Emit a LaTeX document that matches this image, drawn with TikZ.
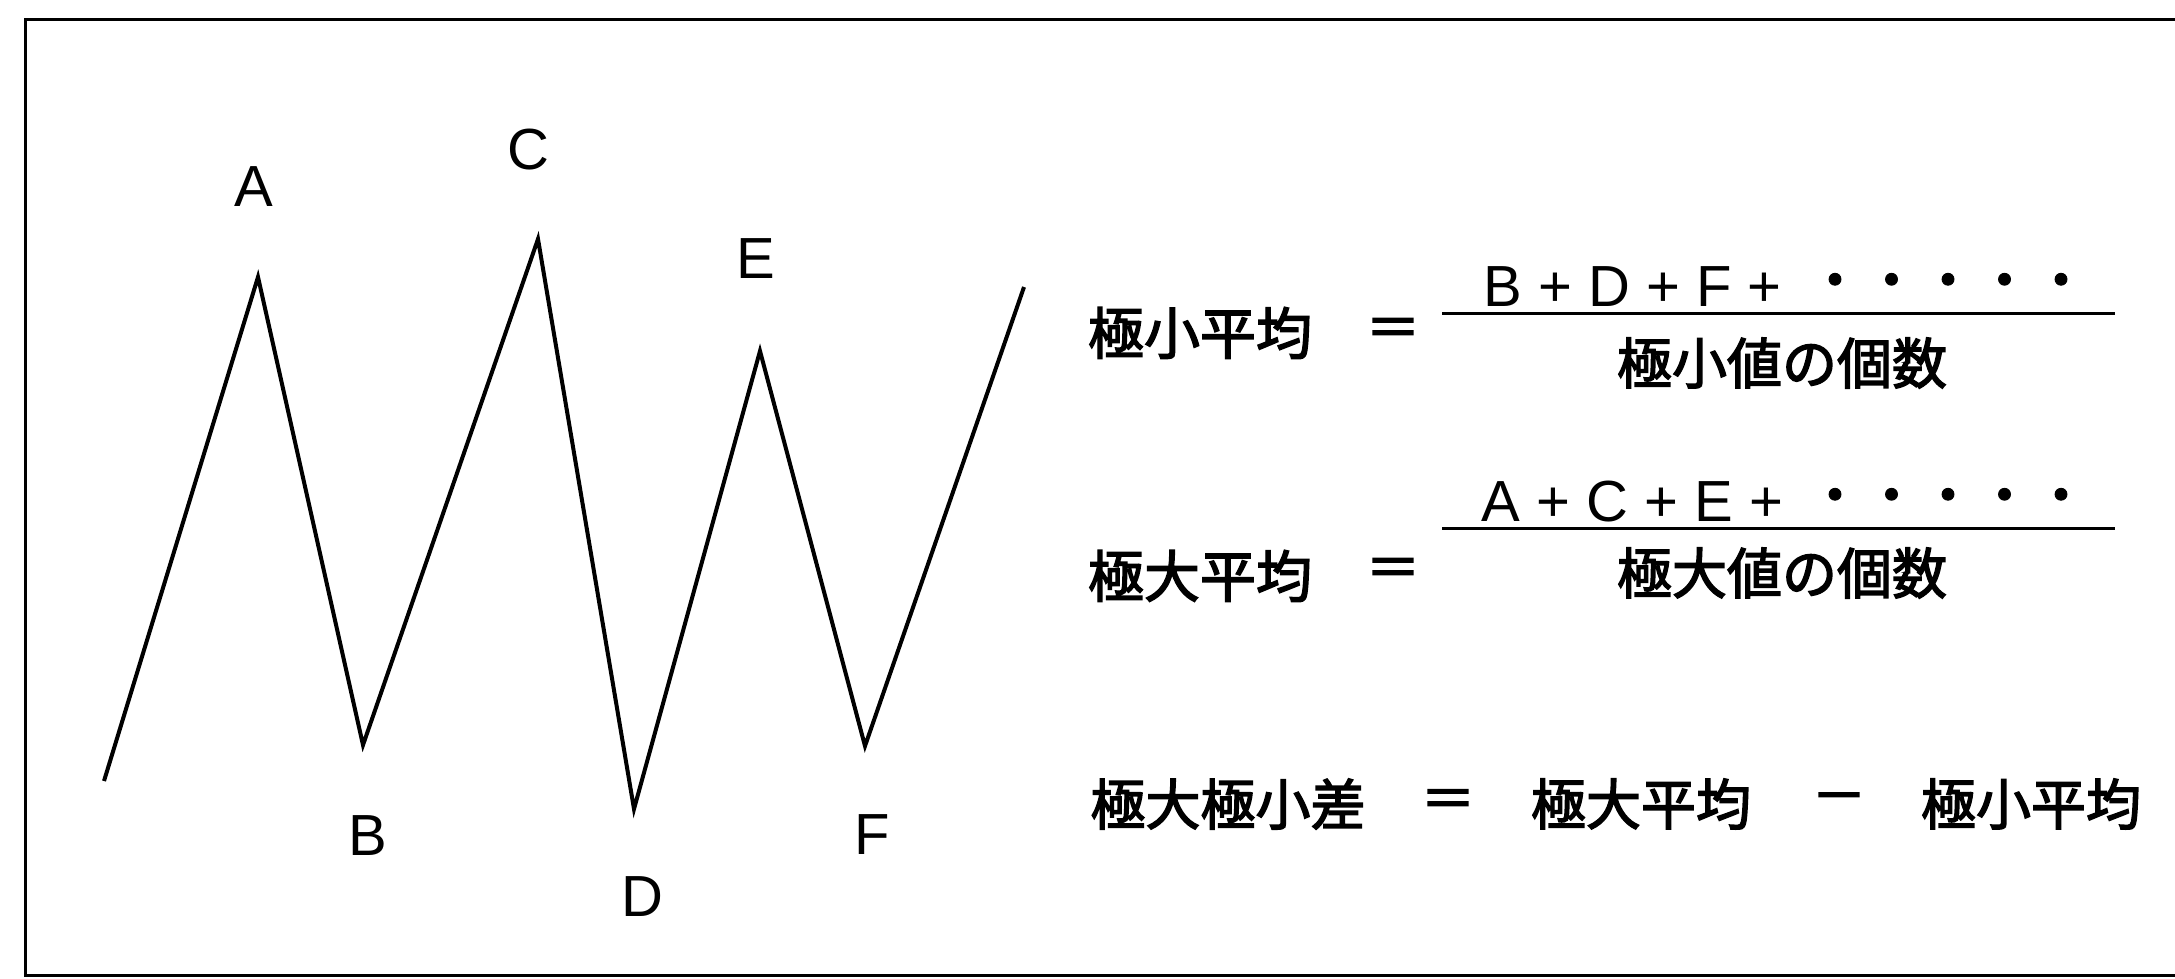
\documentclass[tikz,border=0pt]{standalone}
\usepackage{fontspec}
\setmainfont{Liberation Sans}
\newfontfamily\cjk{Noto Sans CJK JP}[FakeBold=2.6]
\newfontfamily\cjkdot{Noto Sans CJK JP}[FakeBold=1.5]
\begin{document}
\begin{tikzpicture}[x=1pt,y=-1pt,line width=3pt,
  lbl/.style={font=\fontsize{58}{60}\selectfont, inner sep=0pt},
  jp/.style={font=\cjk\fontsize{56}{60}\selectfont, inner sep=0pt},
  jpd/.style={font=\cjk\fontsize{55}{60}\selectfont, inner sep=0pt},
  dots/.style={font=\cjkdot\fontsize{56.5}{60}\selectfont, inner sep=0pt}]
\useasboundingbox (0,0) rectangle (2175,978);
% frame (open on the right)
\draw (2175,19) -- (25,19) -- (25,975) -- (2175,975);
% zigzag
\coordinate (s) at (104,781);
\coordinate (pA) at (258,277);
\coordinate (pB) at (363,745);
\coordinate (pC) at (538,239);
\coordinate (pD) at (634,809);
\coordinate (pE) at (760,351);
\coordinate (pF) at (865,746);
\coordinate (t) at (1024,287);
\draw[line width=4pt,line join=miter] (s) -- (pA) -- (pB) -- (pC) -- (pD) -- (pE) -- (pF) -- (t);
\node[lbl] (lA) at (254,187) {A};
\node[lbl] (lC) at (528,150) {C};
\node[lbl] (lE) at (756,259) {E};
\node[lbl] (lB) at (368,836) {B};
\node[lbl] (lD) at (642,897) {D};
\node[lbl] (lF) at (872,835) {F};
% formula 1
\node[jp] (min1) at (1200,333) {極小平均};
\node[jpd] (eq1) at (1393,333) {＝};
\node[lbl,anchor=west] (num1) at (1482,287) {B + D + F +};
\node[dots] (dt1) at (1948,287) {・・・・・};
\coordinate (f1a) at (1442,313);
\coordinate (f1b) at (2115,313);
\draw (f1a) -- (f1b);
\node[jpd] (den1) at (1782,363) {極小値の個数};
% formula 2
\node[jp] (max2) at (1200,576) {極大平均};
\node[jpd] (eq2) at (1393,573) {＝};
\node[lbl,anchor=west] (num2) at (1480,502) {A + C + E +};
\node[dots] (dt2) at (1948,502) {・・・・・};
\coordinate (f2a) at (1442,528);
\coordinate (f2b) at (2115,528);
\draw (f2a) -- (f2b);
\node[jpd] (den2) at (1782,573) {極大値の個数};
% formula 3
\node[jpd] (diff) at (1228,804) {極大極小差};
\node[jpd] (eq3) at (1448,804) {＝};
\node[jpd] (max3) at (1641,804) {極大平均};
\node[jpd] (minus) at (1839,804) {－};
\node[jpd] (min3) at (2031,804) {極小平均};
\end{tikzpicture}
\end{document}
